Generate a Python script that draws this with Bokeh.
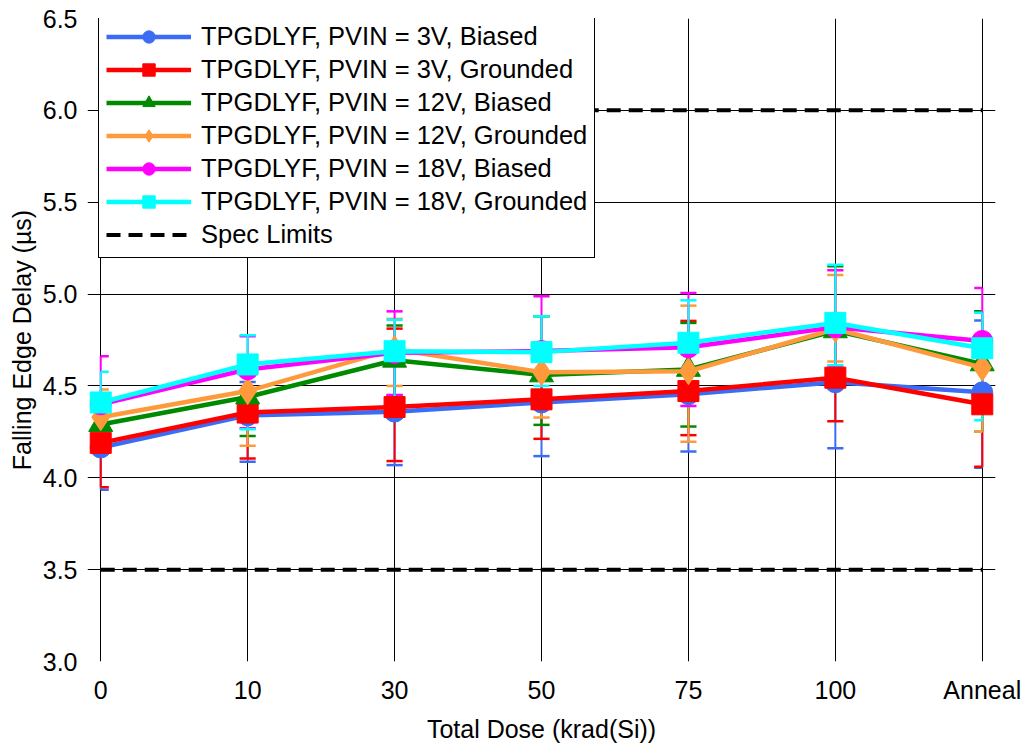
import numpy as np
from bokeh.plotting import figure
from bokeh.models import Range1d, FixedTicker, NumeralTickFormatter, Legend, LegendItem
from bokeh.embed import file_html
from bokeh.resources import INLINE

# ---------------- data ----------------
categories = ["0", "10", "30", "50", "75", "100", "Anneal"]

names = [
    "TPGDLYF, PVIN = 3V, Biased",
    "TPGDLYF, PVIN = 3V, Grounded",
    "TPGDLYF, PVIN = 12V, Biased",
    "TPGDLYF, PVIN = 12V, Grounded",
    "TPGDLYF, PVIN = 18V, Biased",
    "TPGDLYF, PVIN = 18V, Grounded",
]

v3_biased = [4.165, 4.34, 4.36, 4.41, 4.455, 4.52, 4.465]
v3_biased_lo = [3.935, 4.087, 4.069, 4.118, 4.143, 4.161, 4.055]
v3_biased_hi = [4.40, 4.521, 4.65, 4.70, 4.72, 4.80, 4.856]

v3_grounded = [4.19, 4.355, 4.385, 4.427, 4.472, 4.545, 4.40]
v3_grounded_lo = [3.948, 4.105, 4.091, 4.212, 4.232, 4.308, 4.06]
v3_grounded_hi = [4.43, 4.60, 4.812, 4.64, 4.854, 4.78, 4.74]

v12_biased = [4.29, 4.44, 4.64, 4.56, 4.59, 4.80, 4.62]
v12_biased_lo = [4.20, 4.228, 4.45, 4.288, 4.279, 4.57, 4.25]
v12_biased_hi = [4.38, 4.60, 4.829, 4.879, 4.843, 5.151, 4.906]

v12_grounded = [4.33, 4.472, 4.70, 4.575, 4.58, 4.81, 4.60]
v12_grounded_lo = [4.18, 4.174, 4.50, 4.328, 4.196, 4.633, 4.25]
v12_grounded_hi = [4.481, 4.62, 4.865, 4.738, 4.937, 5.104, 4.76]

v18_biased = [4.40, 4.59, 4.68, 4.69, 4.71, 4.82, 4.745]
v18_biased_lo = [4.16, 4.27, 4.45, 4.39, 4.391, 4.603, 4.45]
v18_biased_hi = [4.662, 4.77, 4.906, 4.988, 5.006, 5.129, 5.033]

v18_grounded = [4.41, 4.617, 4.689, 4.684, 4.735, 4.843, 4.705]
v18_grounded_lo = [4.24, 4.264, 4.42, 4.50, 4.45, 4.612, 4.313]
v18_grounded_hi = [4.577, 4.776, 4.86, 4.879, 4.966, 5.160, 4.898]

spec_limits = [3.5, 6.0]
y_ticks = [3.0, 3.5, 4.0, 4.5, 5.0, 5.5, 6.0, 6.5]

# ---------------- styles ----------------
colors = ["#3B6CF6", "#FF0000", "#008A00", "#FF9A3C", "#FF00FF", "#00FFFF"]
markers = ["circle", "square", "triangle", "diamond", "circle", "square"]
msizes = [21, 21, 24, 27, 21, 21]
FONT = "Liberation Sans"
FS = "25px"
FS_LEG = "25.5px"

values = [v3_biased, v3_grounded, v12_biased, v12_grounded, v18_biased, v18_grounded]
lows = [v3_biased_lo, v3_grounded_lo, v12_biased_lo, v12_grounded_lo, v18_biased_lo, v18_grounded_lo]
highs = [v3_biased_hi, v3_grounded_hi, v12_biased_hi, v12_grounded_hi, v18_biased_hi, v18_grounded_hi]

x = np.arange(len(categories), dtype=float)
xmin, xmax = x[0], x[-1]
pad = 0.09

W, H = 1026, 745
B_LEFT, B_RIGHT, B_TOP, B_BOTTOM = 87, 31, 18, 82
p = figure(width=W, height=H, output_backend="svg", toolbar_location=None,
           x_range=Range1d(xmin - pad, xmax + pad), y_range=Range1d(y_ticks[0], y_ticks[-1]),
           min_border_left=B_LEFT, min_border_right=B_RIGHT,
           min_border_top=B_TOP, min_border_bottom=B_BOTTOM)
p.outline_line_color = None
p.background_fill_color = "white"
p.border_fill_color = "white"

# grid
p.xgrid.ticker = FixedTicker(ticks=list(x))
p.ygrid.ticker = FixedTicker(ticks=y_ticks)
p.xgrid.grid_line_color = "black"
p.ygrid.grid_line_color = "black"
p.xgrid.grid_line_alpha = 1
p.ygrid.grid_line_alpha = 1

# axes
p.xaxis.ticker = FixedTicker(ticks=list(x))
p.xaxis.major_label_overrides = {int(i): c for i, c in zip(x, categories)}
p.yaxis.ticker = FixedTicker(ticks=y_ticks)
p.yaxis.formatter = NumeralTickFormatter(format="0.0")
for ax in (p.xaxis, p.yaxis):
    ax.axis_line_color = None
    ax.major_tick_in = 0
    ax.major_tick_out = 0
    ax.minor_tick_in = 0
    ax.minor_tick_out = 0
    ax.major_label_text_font = FONT
    ax.major_label_text_font_size = FS
    ax.major_label_text_color = "black"
    ax.axis_label_text_font = FONT
    ax.axis_label_text_font_size = FS
    ax.axis_label_text_font_style = "normal"
    ax.axis_label_text_color = "black"
p.xaxis.axis_label = "Total Dose (krad(Si))"
p.yaxis.axis_label = "Falling Edge Delay (µs)"
p.yaxis.major_label_standoff = 10
p.yaxis.axis_label_standoff = 4
p.xaxis.major_label_standoff = 14
p.xaxis.axis_label_standoff = 8

# error bars (drawn first)
cap = 0.055
for c, lo, hi in zip(colors, lows, highs):
    lo = np.array(lo)
    hi = np.array(hi)
    cx0 = np.maximum(x - cap, xmin)
    cx1 = np.minimum(x + cap, xmax)
    p.segment(x0=x, y0=lo, x1=x, y1=hi, line_color=c, line_width=2)
    p.segment(x0=cx0, y0=lo, x1=cx1, y1=lo, line_color=c, line_width=2.5)
    p.segment(x0=cx0, y0=hi, x1=cx1, y1=hi, line_color=c, line_width=2.5)

items = []
for name, c, m, ms, vals in zip(names, colors, markers, msizes, values):
    lr = p.line(x, vals, line_color=c, line_width=4.5)
    sr = p.scatter(x, vals, marker=m, size=ms, fill_color=c, line_color=c, line_width=1)
    items.append(LegendItem(label=name, renderers=[lr, sr]))

spec_items = []
for s in spec_limits:
    r = p.line([xmin, xmax], [s, s], line_color="black", line_width=4, line_dash="14 8")
    spec_items.append(r)
items.append(LegendItem(label="Spec Limits", renderers=[spec_items[0]]))

# legend layout
L_PAD, L_ITEM, L_SPACE = 7, 31, 2
legend_h = 2 * L_PAD + len(items) * L_ITEM + (len(items) - 1) * L_SPACE
frame_h = H - B_TOP - B_BOTTOM
legend = Legend(items=items, location=(11, frame_h - legend_h + 1))
legend.margin = 0
legend.padding = L_PAD
legend.spacing = L_SPACE
legend.glyph_width = 85
legend.glyph_height = L_ITEM
legend.label_height = L_ITEM
legend.label_standoff = 10
legend.label_text_font = FONT
legend.label_text_font_size = FS_LEG
legend.label_text_color = "black"
legend.border_line_color = "black"
legend.border_line_width = 1
legend.border_line_alpha = 1
legend.background_fill_alpha = 1
p.add_layout(legend)

open("out.html", "w").write(file_html(p, INLINE))
